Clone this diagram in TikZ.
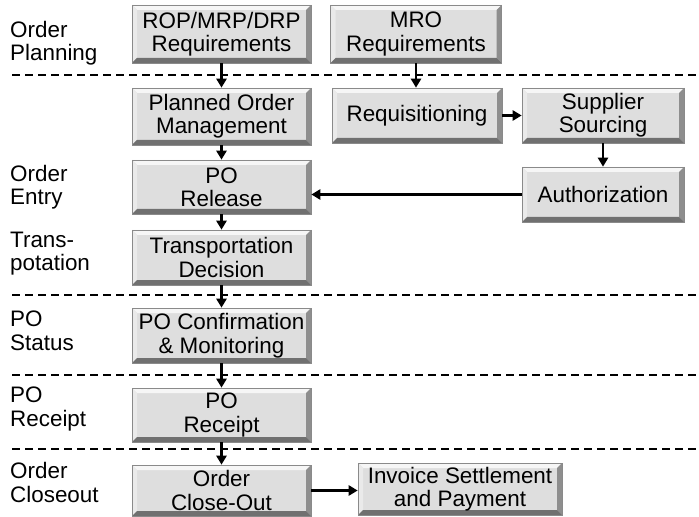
\documentclass[tikz,border=0pt]{standalone}
\usepackage{fontspec}
\setmainfont{Liberation Sans}
\usetikzlibrary{arrows.meta,calc}

\definecolor{faceg}{HTML}{DEDEDE}
\definecolor{bevtop}{HTML}{F6F6F6}
\definecolor{bevleft}{HTML}{EAEAEA}
\definecolor{bevright}{HTML}{8E8E8E}
\definecolor{bevbottom}{HTML}{707070}
\definecolor{edgeg}{HTML}{8A8A8A}

\newcommand{\bvw}{5bp}

\tikzset{
  txt/.style={font=\fontsize{22.5}{23.5}\selectfont},
  bevelbox/.style={txt, align=center, inner sep=0pt, fill=faceg, draw=edgeg,
    line width=0.6bp,
    path picture={
      \coordinate (sw) at (path picture bounding box.south west);
      \coordinate (ne) at (path picture bounding box.north east);
      \coordinate (nw) at (sw |- ne);
      \coordinate (se) at (ne |- sw);
      \fill[bevtop] (nw) -- (ne) -- ($(ne)+(-\bvw,-\bvw)$) -- ($(nw)+(\bvw,-\bvw)$) -- cycle;
      \fill[bevleft] (nw) -- (sw) -- ($(sw)+(\bvw,\bvw)$) -- ($(nw)+(\bvw,-\bvw)$) -- cycle;
      \fill[bevright] (ne) -- (se) -- ($(se)+(-\bvw,\bvw)$) -- ($(ne)+(-\bvw,-\bvw)$) -- cycle;
      \fill[bevbottom] (sw) -- (se) -- ($(se)+(-\bvw,\bvw)$) -- ($(sw)+(\bvw,\bvw)$) -- cycle;
    }},
  % anchored at the baseline of the second line
  lane/.style={txt, align=left, anchor=base west, inner sep=0pt},
  divider/.style={line width=1.5bp, dash pattern=on 8bp off 5bp},
  flow/.style={line width=2.5bp, -{Triangle[length=9bp,width=10bp]}},
}

\begin{document}
\begin{tikzpicture}[x=1bp, y=-1bp]
  \useasboundingbox (0,0) rectangle (699,517);

  % phase dividers
  \foreach \yy/\nm in {75/d1, 295/d2, 375/d3, 449/d4} {
    \coordinate (\nm a) at (12,\yy);
    \coordinate (\nm b) at (699,\yy);
    \draw[divider] (\nm a) -- (\nm b);
  }

  % phase labels
  \node[lane] (lplan)  at (10,61)  {Order\\Planning};
  \node[lane] (lentry) at (10,205) {Order\\Entry};
  \node[lane] (ltrans) at (10,271) {Trans-\\potation};
  \node[lane] (lstat)  at (10,350) {PO\\Status};
  \node[lane] (lrcpt)  at (10,426) {PO\\Receipt};
  \node[lane] (lclose) at (10,502) {Order\\Closeout};

  % process steps
  \node[bevelbox, minimum width=179bp, minimum height=58bp] (rop) at (221.5,34) {ROP/MRP/DRP\\Requirements};
  \node[bevelbox, minimum width=171bp, minimum height=58bp] (mro) at (416,34) {MRO\\Requirements};
  \node[bevelbox, minimum width=179bp, minimum height=57bp] (pom) at (221.5,116.5) {Planned Order\\Management};
  \node[bevelbox, minimum width=170bp, minimum height=55bp] (req) at (417,115.5) {Requisitioning};
  \node[bevelbox, minimum width=162bp, minimum height=55bp] (sup) at (603,115.5) {Supplier\\Sourcing};
  \node[bevelbox, minimum width=162bp, minimum height=55bp] (aut) at (603,194.5) {Authorization};
  \node[bevelbox, minimum width=179bp, minimum height=54bp] (rel) at (221.5,187) {PO\\Release};
  \node[bevelbox, minimum width=179bp, minimum height=55bp] (trd) at (221.5,257.5) {Transportation\\Decision};
  \node[bevelbox, minimum width=179bp, minimum height=55bp] (poc) at (221.5,335.5) {PO Confirmation\\\& Monitoring};
  \node[bevelbox, minimum width=179bp, minimum height=54bp] (rcp) at (221.5,415) {PO\\Receipt};
  \node[bevelbox, minimum width=179bp, minimum height=51bp] (clo) at (221.5,490.5) {Order\\Close-Out};
  \node[bevelbox, minimum width=204bp, minimum height=52bp] (inv) at (460,489) {Invoice Settlement\\and Payment};

  % flow
  \draw[flow] (rop) -- (pom);
  \draw[flow] (mro.south) -- (mro.south |- req.north);
  \draw[flow] (req) -- (sup);
  \draw[flow] (sup) -- (aut);
  \draw[flow] (aut.west) -- (aut.west -| rel.east);
  \draw[flow] (pom) -- (rel);
  \draw[flow] (rel) -- (trd);
  \draw[flow] (trd) -- (poc);
  \draw[flow] (poc) -- (rcp);
  \draw[flow] (rcp) -- (clo);
  \draw[flow] (clo.east) -- (clo.east -| inv.west);
\end{tikzpicture}
\end{document}
